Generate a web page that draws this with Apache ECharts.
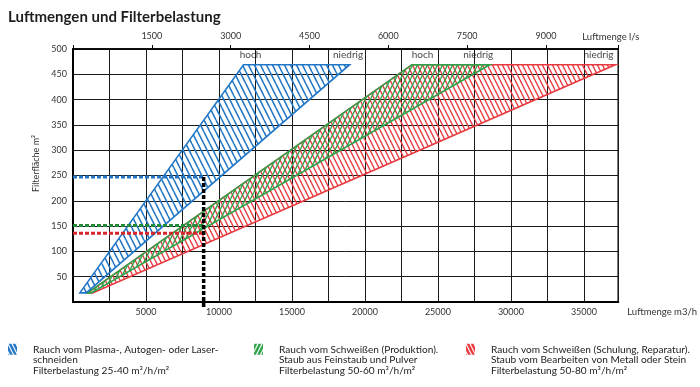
<!DOCTYPE html>
<html><head><meta charset="utf-8">
<script src="https://cdn.jsdelivr.net/npm/echarts@6/dist/echarts.min.js"></script>
<style>html,body{margin:0;padding:0;background:#fff}#c{width:700px;height:387px}</style>
</head><body><div id="c"></div>
<script>
// ---- data ----
const titleText = 'Luftmengen und Filterbelastung';
const xMaxM3h = 37350;          // right edge of plot, m3/h
const yMax = 500;
const bottomTickLabels = [5000, 10000, 15000, 20000, 25000, 30000, 35000];
const topTickLabels = [1500, 3000, 4500, 6000, 7500, 9000];
const leftTickLabels = [50, 100, 150, 200, 250, 300, 350, 400, 450, 500];
const seriesNames = [
  'Rauch vom Plasma-, Autogen- oder Laser-\nschneiden\nFilterbelastung 25-40 m³/h/m²',
  'Rauch vom Schweißen (Produktion).\nStaub aus Feinstaub und Pulver\nFilterbelastung 50-60 m³/h/m²',
  'Rauch vom Schweißen (Schulung, Reparatur).\nStaub vom Bearbeiten von Metall oder Stein\nFilterbelastung 50-80 m³/h/m²'
];
// band outlines [m3/h, m2]
const blueBand  = [[470, 18], [900, 18], [18950, 469], [11680, 469]];
const greenBand = [[1000, 18], [1250, 18], [28550, 469], [23220, 469]];
const redBand   = [[1000, 18], [1350, 18], [37150, 469], [23220, 469]];
// example reading
const exampleFlow = [8950];
const guideAreas = [247, 151, 136];   // blue, green, red
// annotations above band ends
const annotX = [12157, 18843, 23943, 27760, 36000];
const annotY = [488, 488, 488, 488, 488];
const annotText = ['hoch', 'niedrig', 'hoch', 'niedrig', 'niedrig'];

// ---- styles ----
const BLUE = '#2277c6', GREEN = '#2ea24a', RED = '#e8393f';
const FONT = 'Lato';

function hatch(color, dir, w, h, lw, bg) {
  const c = document.createElement('canvas'); c.width = w; c.height = h;
  const g = c.getContext('2d');
  if (bg) { g.fillStyle = bg; g.fillRect(0, 0, w, h); }
  g.strokeStyle = color; g.lineWidth = lw;
  for (let k = -1; k <= 1; k++) {
    g.beginPath();
    if (dir === '\\') { g.moveTo(k * w, 0); g.lineTo(k * w + w, h); }
    else { g.moveTo(k * w, h); g.lineTo(k * w + w, 0); }
    g.stroke();
  }
  return { image: c, repeat: 'repeat' };
}
const fills = [hatch(BLUE, '\\', 6, 12, 1.6), hatch(GREEN, '/', 5, 10, 1.4), hatch(RED, '\\', 5, 10, 1.4)];
const iconFills = [hatch('#fff', '\\', 4, 8, 1.2, BLUE), hatch('#fff', '/', 4, 8, 1.2, GREEN), hatch('#fff', '\\', 4, 8, 1.2, RED)];
const bands = [blueBand, greenBand, redBand];
const colors = [BLUE, GREEN, RED];

function bandSeries(i, z) {
  const band = bands[i];
  return {
    type: 'custom', name: seriesNames[i], z: z, silent: true,
    data: band, encode: { x: 0, y: 1 },
    itemStyle: { color: colors[i] },
    renderItem: function (params, api) {
      if (params.dataIndex !== 0) return null;
      const pts = band.map(p => api.coord(p));
      return { type: 'polygon', shape: { points: pts },
        style: { fill: fills[i], stroke: colors[i], lineWidth: 1.6, lineJoin: 'miter' } };
    }
  };
}

function guide(data, color, width, z) {
  return { type: 'line', data: data, symbol: 'none', silent: true, clip: false, z: z,
    lineStyle: { color: color, width: width, type: [4, 2], cap: 'butt' } };
}

const legendLeft = [8, 254, 466];
const axisText = { fontFamily: FONT, fontSize: 9, color: '#333' };

const option = {
  animation: false,
  title: { text: titleText, left: 8, top: 10, padding: 0,
    textStyle: { fontFamily: FONT, fontWeight: 'bold', fontSize: 15, color: '#1e1e1e' } },
  grid: { left: 73, right: 74, top: 49, bottom: 85, show: true, borderColor: '#000', borderWidth: 1.5 },
  legend: seriesNames.map((n, i) => ({
    left: legendLeft[i], top: 323, padding: 0, selectedMode: false,
    itemWidth: 9, itemHeight: 11,
    data: [{ name: n, icon: 'rect', itemStyle: { color: iconFills[i], borderWidth: 0 } }],
    formatter: s => '\n\n' + s,
    textStyle: { fontFamily: FONT, fontSize: 10.1, color: '#222', lineHeight: 10.5, padding: [0, 0, 0, 11] }
  })),
  xAxis: [
    { type: 'value', position: 'bottom', min: 0, max: xMaxM3h, interval: 2500,
      axisLine: { show: true, lineStyle: { color: '#000', width: 2 } },
      axisTick: { show: false },
      axisLabel: Object.assign({ margin: 6,
        formatter: v => bottomTickLabels.includes(v) ? String(v) : '' }, axisText),
      splitLine: { show: true, lineStyle: { color: '#1a1a1a', width: 1 } },
      name: 'Luftmenge m3/h', nameLocation: 'end', nameGap: 9,
      nameTextStyle: Object.assign({}, axisText, { fontSize: 9.5, verticalAlign: 'top', lineHeight: 20 }) },
    { type: 'value', position: 'top', min: 0, max: xMaxM3h / 3.6, interval: 1500,
      axisLine: { show: true, lineStyle: { color: '#000', width: 1.5 } },
      axisTick: { show: true, length: 4, lineStyle: { color: '#000' } },
      axisLabel: Object.assign({ margin: 8,
        formatter: v => topTickLabels.includes(v) ? String(v) : '' }, axisText),
      splitLine: { show: false },
      name: 'Luftmenge l/s', nameLocation: 'end', nameGap: -36,
      nameTextStyle: Object.assign({}, axisText, { fontSize: 9.5, verticalAlign: 'bottom', lineHeight: 24 }) }
  ],
  yAxis: { type: 'value', min: 0, max: yMax, interval: 50,
    axisLine: { show: true, lineStyle: { color: '#000', width: 2 } },
    axisTick: { show: false },
    axisLabel: Object.assign({ margin: 6,
      formatter: v => leftTickLabels.includes(v) ? String(v) : '' }, axisText),
    splitLine: { show: true, lineStyle: { color: '#1a1a1a', width: 1 } },
    name: 'Filterfläche m²', nameLocation: 'middle', nameRotate: 90, nameGap: 24,
    nameTextStyle: Object.assign({ padding: [0, 0, 0, 24] }, axisText) },
  series: [
    bandSeries(2, 2),
    bandSeries(1, 3),
    bandSeries(0, 4),
    guide([[0, guideAreas[0]], [exampleFlow[0], guideAreas[0]]], BLUE, 3, 6),
    guide([[0, guideAreas[1]], [exampleFlow[0], guideAreas[1]]], '#248a3a', 3, 6),
    guide([[0, guideAreas[2]], [exampleFlow[0], guideAreas[2]]], '#d7262b', 3, 6),
    guide([[exampleFlow[0], guideAreas[0]], [exampleFlow[0], -10]], '#000', 3.5, 7),
    { type: 'scatter', silent: true, z: 8, symbolSize: 1, itemStyle: { color: 'rgba(0,0,0,0)' },
      data: annotX.map((x, i) => ({ value: [x, annotY[i]], name: annotText[i] })),
      label: { show: true, position: 'inside', formatter: '{b}', color: '#111', fontFamily: FONT, fontSize: 10 } }
  ]
};
const chart = echarts.init(document.getElementById('c'), null, { renderer: 'canvas' });
chart.setOption(option);
</script></body></html>
